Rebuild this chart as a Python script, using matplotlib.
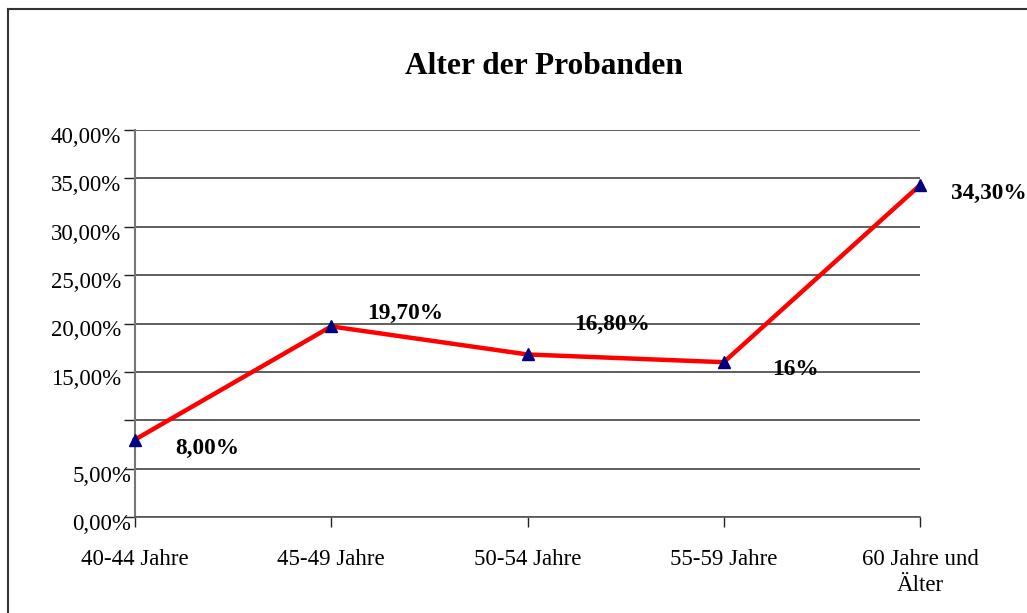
import matplotlib
matplotlib.use("Agg")
import matplotlib.pyplot as plt
from matplotlib.ticker import FuncFormatter, MultipleLocator
from matplotlib.transforms import ScaledTranslation
from matplotlib.lines import Line2D

categories = ["40-44 Jahre", "45-49 Jahre", "50-54 Jahre", "55-59 Jahre", "60 Jahre und\nÄlter"]
values = [8.0, 19.7, 16.8, 16.0, 34.3]
value_labels = ["8,00%", "19,70%", "16,80%", "16%", "34,30%"]
label_offsets_px = [(72, -14), (74, 7), (85, 24), (72, -13), (69, -14)]
title = "Alter der Probanden"

plt.rcParams['font.family'] = ['Liberation Serif', 'DejaVu Serif']

W, H = 1027, 613
fig = plt.figure(figsize=(W / 100, H / 100), dpi=100)
ax = fig.add_axes([135 / W, (H - 517) / H, (920 - 135) / W, (517 - 130) / H])

x = list(range(len(categories)))
ax.plot(x, values, color='#ff0000', lw=3.2, marker='^', markersize=8,
        markerfacecolor='#000080', markeredgecolor='#000080', zorder=3, clip_on=False)

ax.set_xlim(0, len(categories) - 1)
ax.set_ylim(0, 40)
ax.yaxis.set_major_locator(MultipleLocator(5))

def yfmt(v, pos):
    if abs(v - 10) < 1e-6:
        return ''
    return f"{v:.2f}".replace('.', ',') + '%'

ax.yaxis.set_major_formatter(FuncFormatter(yfmt))
ax.grid(axis='y', color='#333333', lw=1.1)
ax.set_axisbelow(True)

ax.set_xticks(x)
ax.set_xticklabels(categories, fontsize=16.5, linespacing=1.3)
ax.tick_params(axis='x', length=7, width=1, color='#222222', pad=16)
ax.tick_params(axis='y', length=8, width=1, color='#222222', pad=2, labelsize=16.5)

for s in ['top', 'right']:
    ax.spines[s].set_visible(False)
ax.spines['left'].set_color('#777777')
ax.spines['left'].set_linewidth(1.5)
ax.spines['bottom'].set_color('#555555')
ax.spines['bottom'].set_linewidth(1.2)

fig.canvas.draw()
for tick, lab in zip(ax.yaxis.get_major_ticks(), ax.get_yticklabels()):
    v = tick.get_loc()
    dx = 10 / 100 if v < 10 else 0
    lab.set_transform(lab.get_transform() + ScaledTranslation(dx, -5 / 100, fig.dpi_scale_trans))

for xi, v, lab, (ox, oy) in zip(x, values, value_labels, label_offsets_px):
    ax.annotate(lab, (xi, v), xytext=(ox, oy), textcoords='offset pixels',
                ha='center', va='baseline', fontsize=16.8, fontweight='bold',
                annotation_clip=False)

fig.text((404 + 683) / 2 / W, 1 - 74 / H, title, ha='center', va='baseline',
         fontsize=22.6, fontweight='bold')

# outer chart border
fig.add_artist(Line2D([8 / W, 8 / W], [0, 1 - 9 / H], transform=fig.transFigure, color='#333333', lw=1.5))
fig.add_artist(Line2D([8 / W, 1], [1 - 9 / H, 1 - 9 / H], transform=fig.transFigure, color='#333333', lw=1.5))

fig.savefig("out.png", dpi=100)
